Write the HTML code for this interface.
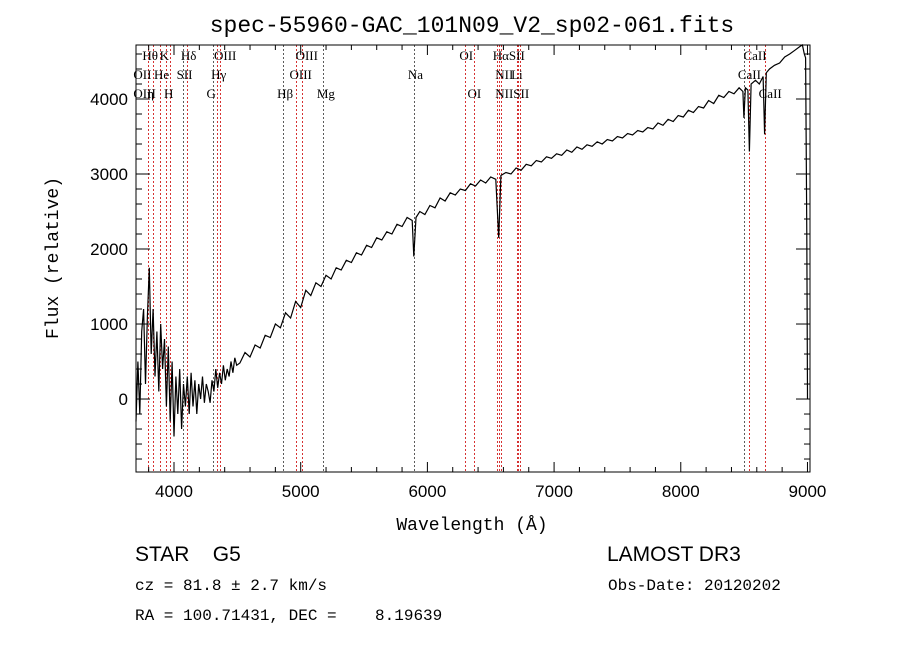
<!DOCTYPE html>
<html><head><meta charset="utf-8"><style>
body{margin:0;background:#fff;width:900px;height:649px;overflow:hidden}
svg{display:block}
text{font-family:"Liberation Sans",sans-serif;fill:#000}
.m{font-family:"Liberation Mono",monospace}
.s{font-family:"Liberation Serif",serif;font-size:13px}
</style></head><body>
<svg id="c" width="900" height="649">
<text x="472" y="32" text-anchor="middle" font-size="23" class="m">spec-55960-GAC_101N09_V2_sp02-061.fits</text>
<text x="472" y="530" text-anchor="middle" font-size="18" class="m">Wavelength (Å)</text>
<text transform="translate(58,258) rotate(-90)" text-anchor="middle" font-size="18" class="m">Flux (relative)</text>
<text x="135" y="561" font-size="21" font-family="Liberation Serif" xml:space="preserve" style="white-space:pre">STAR    G5</text>
<text x="607" y="561" font-size="21" font-family="Liberation Serif">LAMOST DR3</text>
<text x="135" y="590" font-size="16" class="m">cz = 81.8 ± 2.7 km/s</text>
<text x="608" y="590" font-size="16" class="m">Obs-Date: 20120202</text>
<text x="135" y="620" font-size="16" class="m" xml:space="preserve" style="white-space:pre">RA = 100.71431, DEC =    8.19639</text>
</svg>
<script>
const xTicks=[4000,5000,6000,7000,8000,9000];
const yTicks=[0,1000,2000,3000,4000];
const waves=[3700,3715,3730,3745,3760,3775,3790,3805,3820,3835,3850,3865,3880,3895,3910,3925,3940,3955,3970,3985,4000,4015,4030,4045,4060,4075,4090,4105,4120,4135,4150,4165,4180,4195,4210,4225,4240,4255,4270,4285,4300,4315,4330,4345,4360,4375,4390,4405,4420,4435,4450,4465,4480,4495,
4520,4560,4600,4640,4680,4720,4760,4800,4840,4880,4920,4960,5000,5040,5080,5120,5160,5200,5240,5280,5320,5360,5400,5440,5480,5520,5560,5600,5640,5680,5720,5760,5800,5840,5880,5893,5910,5940,5980,6020,6060,6100,6140,6180,6220,6260,6300,6340,6380,6420,6460,6500,6540,6563,6580,6620,6660,6700,6740,6780,6820,6860,6900,6940,6980,7020,7060,7100,7140,7180,7220,7260,7300,7340,7380,7420,7460,7500,7540,7580,7620,7660,7700,7740,7780,7820,7860,7900,7940,7980,8020,8060,8100,8140,8180,8220,8260,8300,8340,8380,8420,8460,8490,8498,8510,8530,8542,8555,8590,8620,8650,8662,8675,8700,8740,8780,8820,8860,8900,8940,8960,8975,8985,8995,9000];
const flux=[-300,500,-200,900,1200,200,1100,1750,600,1200,300,900,100,1000,400,800,-100,700,-300,500,-500,300,-200,400,-400,200,-100,300,-200,350,-100,250,-200,200,0,300,-50,200,100,-50,250,100,400,150,350,200,450,250,400,300,500,350,550,450,
480,620,560,720,680,850,820,1000,950,1150,1080,1300,1220,1450,1380,1550,1500,1650,1600,1750,1720,1850,1820,1950,1920,2050,2020,2150,2120,2230,2200,2330,2300,2420,2380,1900,2420,2500,2460,2580,2550,2680,2640,2750,2720,2800,2780,2870,2840,2920,2880,2960,2930,2150,2980,3020,3000,3080,3050,3130,3110,3180,3160,3230,3210,3270,3250,3320,3290,3360,3330,3390,3370,3430,3400,3460,3440,3500,3480,3540,3520,3580,3560,3620,3600,3680,3650,3730,3700,3780,3760,3850,3820,3900,3880,3980,3940,4050,4020,4100,4070,4150,4100,3750,4150,4120,3300,4200,4250,4200,4300,3530,4350,4400,4450,4480,4560,4600,4650,4700,4720,4600,4550,2200,0];
const lineWaves=[3798,3835,3889,3934,3968,4068,4102,4304,4340,4363,4861,4959,5007,5175,5893,6300,6364,6548,6563,6583,6708,6717,6731,8498,8542,8662];
const lineRed=[1,1,1,1,1,0,1,0,1,1,0,1,1,0,0,1,1,1,1,1,1,1,1,0,1,1];
const labels=[["Hθ",3798,1],["K",3934,1],["Hδ",4102,1],["OIII",4363,1],["OIII",5007,1],["OI",6300,1],["HαSII",6563,1],["CaII",8542,1],
["OII",3727,2],["He",3889,2],["SII",4068,2],["Hγ",4340,2],["OIII",4959,2],["Na",5893,2],["NII",6583,2],["Li",6708,2],["CaII",8498,2],
["OIII",3727,3],["η",3835,3],["H",3968,3],["G",4304,3],["Hβ",4861,3],["Mg",5175,3],["OI",6364,3],["NIISII",6583,3],["CaII",8662,3]];
const L=136,R=810,T=45,B=472,X0=3700,X1=9020,Y0=-973,Y1=4720;
const sx=w=>L+(w-X0)/(X1-X0)*(R-L), sy=f=>B-(f-Y0)/(Y1-Y0)*(B-T);
const svg=document.getElementById('c'),NS='http://www.w3.org/2000/svg';
function mk(t,a,p){const e=document.createElementNS(NS,t);for(const k in a)e.setAttribute(k,a[k]);(p||svg).appendChild(e);return e;}
lineWaves.forEach((w,i)=>{const x=Math.round(sx(w))+0.5;
 const l=mk('line',{x1:x,x2:x,y1:T,y2:B,stroke:lineRed[i]?'#c00':'#333','stroke-width':0.8,'stroke-dasharray':'2,2'});
 
 });
labels.forEach(([t,w,r])=>{const e=mk('text',{x:sx(w)-6,y:T+15+(r-1)*19,class:'s'});e.textContent=t;
 
 });
const pts=waves.map((w,i)=>sx(w).toFixed(1)+','+sy(flux[i]).toFixed(1)).join(' ');
const pl=mk('polyline',{points:pts,fill:'none',stroke:'#000','stroke-width':1.2});


const fr=mk('rect',{x:L,y:T,width:R-L,height:B-T,fill:'none',stroke:'#000','stroke-width':1});


for(let w=3800;w<=9000;w+=200){const x=sx(w),maj=w%1000===0,h=maj?10:5;
 mk('line',{x1:x,x2:x,y1:B,y2:B-h,stroke:'#000'});mk('line',{x1:x,x2:x,y1:T,y2:T+h,stroke:'#000'});}
for(let f=-800;f<=4600;f+=200){const y=sy(f),maj=f%1000===0,h=maj?14:6;
 mk('line',{x1:L,x2:L+h,y1:y,y2:y,stroke:'#000'});mk('line',{x1:R,x2:R-h,y1:y,y2:y,stroke:'#000'});}
xTicks.forEach(w=>{const e=mk('text',{x:sx(w),y:B+25,'text-anchor':'middle','font-size':17});e.textContent=w;
 
 });
yTicks.forEach(f=>{const e=mk('text',{x:L-8,y:sy(f)+6,'text-anchor':'end','font-size':17});e.textContent=f;
 
 });
</script>
</body></html>
